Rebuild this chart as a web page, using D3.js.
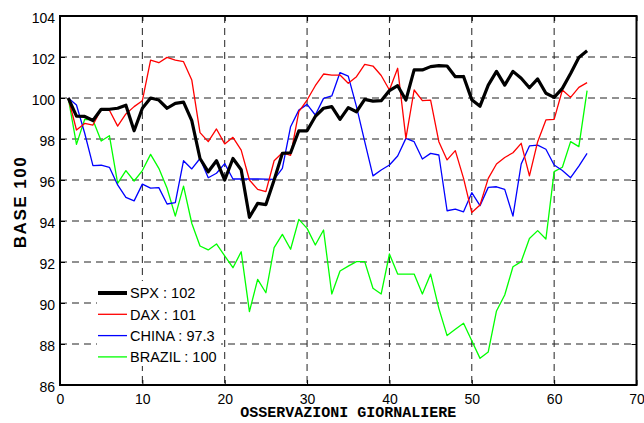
<!DOCTYPE html>
<html>
<head>
<meta charset="utf-8">
<script src="https://cdn.jsdelivr.net/npm/d3@7"></script>
<style>
  html, body { margin: 0; padding: 0; background: #fff; }
  svg { display: block; }
  .tick text { font-family: "Liberation Sans", Arial, sans-serif; font-size: 14px; fill: #000; }
</style>
</head>
<body>
<svg id="chart" width="644" height="423"></svg>
<script>
// Daily observations, rebased to 100
const days = d3.range(1, 65);

const spx = [100, 99.12, 99.1, 98.9, 99.45, 99.45, 99.5, 99.65, 98.4, 99.5,
  100.0, 99.9, 99.5, 99.74, 99.8, 98.9, 97.05, 96.4, 96.94, 96.0,
  97.05, 96.5, 94.18, 94.86, 94.8, 96.0, 97.3, 97.33, 98.4, 98.4,
  99.1, 99.5, 99.58, 98.96, 99.53, 99.33, 99.93, 99.85, 99.87, 100.36,
  100.6, 99.9, 101.37, 101.37, 101.53, 101.58, 101.56, 101.04, 101.05, 99.92,
  99.6, 100.63, 101.3, 100.63, 101.3, 100.96, 100.5, 100.93, 100.23, 100.03,
  100.47, 101.2, 101.98, 102.3];

const dax = [100, 98.44, 98.76, 98.68, 99.45, 99.4, 98.63, 99.22, 99.58, 99.87,
  101.85, 101.72, 101.98, 101.85, 101.77, 100.88, 98.31, 97.87, 98.49, 97.76,
  98.08, 97.46, 96.0, 95.54, 95.43, 96.94, 97.33, 97.2, 99.33, 99.9,
  100.6, 101.17, 101.12, 101.12, 100.72, 101.04, 101.64, 101.56, 101.1, 100.39,
  101.45, 98.03, 100.39, 99.87, 99.9, 97.87, 96.98, 97.43, 96.08, 94.41,
  94.78, 96.08, 96.78, 97.1, 97.33, 97.79, 96.2, 97.87, 98.93, 98.96,
  100.39, 100.03, 100.52, 100.75];

const china = [100, 99.66, 98.28, 96.7, 96.72, 96.62, 95.76, 95.15, 94.98, 95.8,
  95.6, 95.63, 94.83, 94.9, 96.94, 96.54, 97.05, 96.11, 96.33, 96.8,
  96.05, 96.05, 96.05, 96.05, 96.04, 96.03, 96.57, 98.6, 99.41, 99.69,
  99.17, 99.98, 100.1, 101.24, 101.07, 99.58, 97.87, 96.2, 96.49, 96.73,
  97.17, 98.03, 97.87, 97.02, 97.3, 97.22, 94.5, 94.58, 94.45, 95.38,
  94.75, 95.64, 95.67, 95.54, 94.24, 96.78, 97.66, 97.7, 97.5, 96.73,
  96.46, 96.11, 96.68, 97.3];

const brazil = [100, 97.74, 98.96, 98.93, 97.9, 98.16, 95.84, 96.46, 95.95, 96.46,
  97.25, 96.57, 95.6, 94.24, 95.7, 93.89, 92.78, 92.59, 92.88, 92.3,
  91.72, 92.5, 89.58, 91.15, 90.5, 92.7, 93.35, 92.62, 94.08, 93.64,
  92.83, 93.56, 90.44, 91.56, 91.8, 92.02, 92.02, 90.72, 90.44, 92.39,
  91.41, 91.41, 91.41, 90.44, 91.41, 89.74, 88.41, 88.72, 89.01, 88.16,
  87.3, 87.61, 89.61, 90.39, 91.77, 92.02, 93.15, 93.53, 93.12, 96.41,
  96.62, 97.87, 97.63, 100.36];

const seriesNames = ["SPX", "DAX", "CHINA", "BRAZIL"];
const seriesColors = ["#000000", "#ff0000", "#0000ff", "#00ff00"];
const seriesWidths = [3.2, 1.3, 1.3, 1.3];
const legendValues = ["102", "101", "97.3", "100"];

const xTicks = [0, 10, 20, 30, 40, 50, 60, 70];
const yTicks = [86, 88, 90, 92, 94, 96, 98, 100, 102, 104];

const xTitle = "OSSERVAZIONI GIORNALIERE";
const yTitle = "BASE 100";

const series = [spx, dax, china, brazil].map((vals, k) => ({
  name: seriesNames[k],
  color: seriesColors[k],
  width: seriesWidths[k],
  label: legendValues[k],
  points: vals.map((v, i) => ({ x: days[i], y: v }))
}));

const svg = d3.select("#chart");
const plotLeft = 60, plotRight = 636.5, plotTop = 16, plotBottom = 385;

const x = d3.scaleLinear().domain([0, 70]).range([plotLeft, plotRight]);
const y = d3.scaleLinear().domain([86, 104]).range([plotBottom, plotTop]);

// dashed grid
const grid = svg.append("g")
  .attr("stroke", "#222")
  .attr("stroke-width", 1)
  .attr("stroke-dasharray", "7,5");
grid.selectAll(".gx").data(xTicks.slice(1, -1)).join("line")
  .attr("x1", d => x(d)).attr("x2", d => x(d))
  .attr("y1", plotTop).attr("y2", plotBottom);
grid.selectAll(".gy").data(yTicks.slice(1, -1)).join("line")
  .attr("x1", plotLeft).attr("x2", plotRight)
  .attr("y1", d => y(d)).attr("y2", d => y(d));

// inward tick marks on all four sides
const tickLen = 5;
const bottomAxis = svg.append("g").attr("transform", `translate(0,${plotBottom})`)
  .call(d3.axisBottom(x).tickValues(xTicks).tickSize(-tickLen).tickPadding(10).tickFormat(d3.format("d")));
const topAxis = svg.append("g").attr("transform", `translate(0,${plotTop})`)
  .call(d3.axisTop(x).tickValues(xTicks).tickSize(-tickLen).tickFormat(""));
const leftAxis = svg.append("g").attr("transform", `translate(${plotLeft},0)`)
  .call(d3.axisLeft(y).tickValues(yTicks).tickSize(-tickLen).tickPadding(5).tickFormat(d3.format("d")));
const rightAxis = svg.append("g").attr("transform", `translate(${plotRight},0)`)
  .call(d3.axisRight(y).tickValues(yTicks).tickSize(-tickLen).tickFormat(""));
[bottomAxis, topAxis, leftAxis, rightAxis].forEach(a => {
  a.select(".domain").remove();
  a.selectAll(".tick line").attr("stroke", "#000").attr("stroke-width", 1);
});
bottomAxis.selectAll(".tick text").attr("dy", "0.75em").attr("y", 8);
leftAxis.selectAll(".tick text").attr("dy", "0.45em");

// series lines
const line = d3.line().x(d => x(d.x)).y(d => y(d.y));
const plot = svg.append("g");
plot.selectAll("path").data(series.slice().reverse()).join("path")
  .attr("d", d => line(d.points))
  .attr("fill", "none")
  .attr("stroke", d => d.color)
  .attr("stroke-width", d => d.width)
  .attr("stroke-linejoin", "round");

// legend on a white panel
const legend = svg.append("g");
legend.append("rect")
  .attr("x", 97).attr("y", 281).attr("width", 124).attr("height", 85)
  .attr("fill", "#fff");
const rows = legend.selectAll("g.row").data(series).join("g")
  .attr("transform", (d, i) => `translate(0,${293 + i * 21.3})`);
rows.append("line")
  .attr("x1", 98).attr("x2", 127).attr("y1", 0).attr("y2", 0)
  .attr("stroke", d => d.color)
  .attr("stroke-width", d => d.width > 2 ? 4 : 1.3);
rows.append("text")
  .attr("x", 130).attr("y", 0).attr("dy", "0.36em")
  .attr("font-family", "Liberation Sans, Arial, sans-serif")
  .attr("font-size", 14.5)
  .text(d => `${d.name} : ${d.label}`);

// frame
svg.append("rect")
  .attr("x", plotLeft).attr("y", plotTop)
  .attr("width", plotRight - plotLeft).attr("height", plotBottom - plotTop)
  .attr("fill", "none").attr("stroke", "#000").attr("stroke-width", 2);

// axis titles
svg.append("text")
  .attr("x", (plotLeft + plotRight) / 2).attr("y", 417)
  .attr("text-anchor", "middle")
  .attr("font-family", "Liberation Mono, Courier New, monospace")
  .attr("font-weight", "bold")
  .attr("font-size", 15)
  .text(xTitle);
svg.append("text")
  .attr("transform", "translate(26,202) rotate(-90)")
  .attr("text-anchor", "middle")
  .attr("font-family", "Liberation Sans, Arial, sans-serif")
  .attr("font-weight", "bold")
  .attr("font-size", 17)
  .attr("letter-spacing", 1.5)
  .text(yTitle);
</script>
</body>
</html>
